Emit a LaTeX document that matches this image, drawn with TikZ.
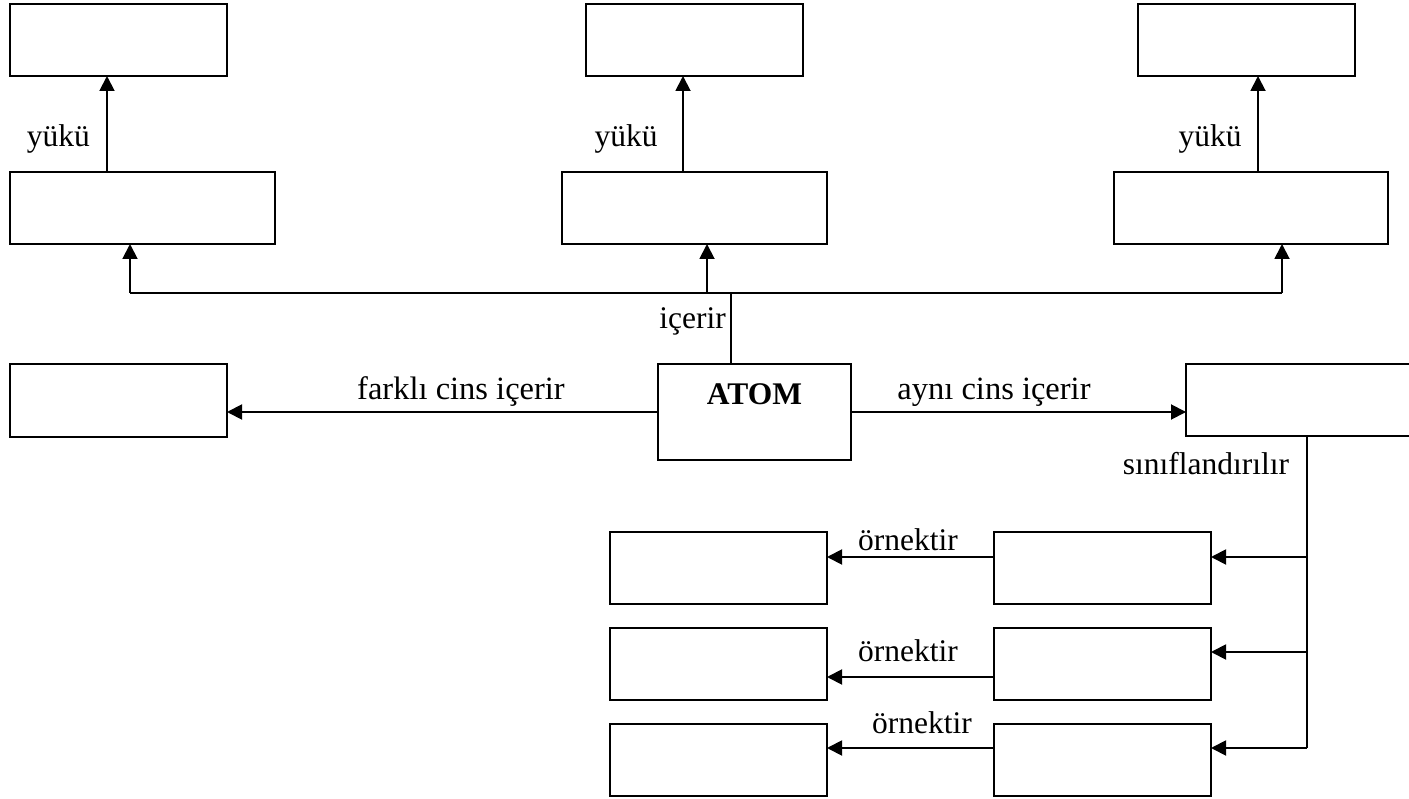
\documentclass[tikz,border=0pt]{standalone}
\usepackage{fontspec}
\setmainfont{Liberation Serif}
\usetikzlibrary{arrows.meta}
\begin{document}
\begin{tikzpicture}[x=1pt,y=-1pt,
  box/.style={draw, line width=1.9pt, minimum height=72pt, inner sep=0pt, outer sep=0pt},
  conn/.style={line width=1.9pt},
  arr/.style={conn, -{Triangle[length=15pt,width=15pt]}},
  lbl/.style={anchor=base, inner sep=0pt, font=\fontsize{31.5}{36}\selectfont}]
\clip (0,0) rectangle (1409,799);
\fill[white] (0,0) rectangle (1409,799);

% top row
\node[box, minimum width=217pt] (T1) at (118.5,40) {};
\node[box, minimum width=217pt] (T2) at (694.5,40) {};
\node[box, minimum width=217pt] (T3) at (1246.5,40) {};
% second row
\node[box, minimum width=265pt] (B1) at (142.5,208) {};
\node[box, minimum width=265pt] (B2) at (694.5,208) {};
\node[box, minimum width=274pt] (B3) at (1251,208) {};
% middle row
\node[box, minimum width=217pt, minimum height=73pt] (L) at (118.5,400.5) {};
\node[box, minimum width=193pt, minimum height=96pt, text height=21pt, text depth=35pt,
      font=\fontsize{31.5}{36}\selectfont\bfseries] (ATOM) at (754.5,412) {ATOM};
\node[box, minimum width=244pt] (R) at (1308,400) {};
% lower rows
\node[box, minimum width=217pt] (C1) at (1102.5,568) {};
\node[box, minimum width=217pt] (C2) at (1102.5,664) {};
\node[box, minimum width=217pt] (C3) at (1102.5,760) {};
\node[box, minimum width=217pt] (D1) at (718.5,568) {};
\node[box, minimum width=217pt] (D2) at (718.5,664) {};
\node[box, minimum width=217pt] (D3) at (718.5,760) {};

% guide coordinates
\coordinate (xa) at (107,0);
\coordinate (xb) at (683,0);
\coordinate (xc) at (1258,0);
\coordinate (p1) at (130,0);
\coordinate (p2) at (707,0);
\coordinate (p3) at (1282,0);
\coordinate (xm) at (731,0);
\coordinate (bus) at (0,293);
\coordinate (cx) at (1307,0);
\coordinate (ya) at (0,557);
\coordinate (yb) at (0,652);
\coordinate (yc) at (0,748);
\coordinate (yd) at (0,677);

% charge arrows
\draw[arr] (B1.north -| xa) -- (T1.south -| xa);
\draw[arr] (B2.north -| xb) -- (T2.south -| xb);
\draw[arr] (B3.north -| xc) -- (T3.south -| xc);

% contains bus
\draw[conn] (ATOM.north -| xm) -- (xm |- bus);
\draw[conn] (p1 |- bus) -- (p3 |- bus);
\draw[arr] (p1 |- bus) -- (B1.south -| p1);
\draw[arr] (p2 |- bus) -- (B2.south -| p2);
\draw[arr] (p3 |- bus) -- (B3.south -| p3);

% sideways arrows
\draw[arr] (ATOM.west) -- (ATOM.west -| L.east);
\draw[arr] (ATOM.east) -- (ATOM.east -| R.west);

% classification bus
\draw[conn] (R.south -| cx) -- (cx |- yc);
\draw[arr] (cx |- ya) -- (C1.east |- ya);
\draw[arr] (cx |- yb) -- (C2.east |- yb);
\draw[arr] (cx |- yc) -- (C3.east |- yc);

% example arrows
\draw[arr] (C1.west |- ya) -- (D1.east |- ya);
\draw[arr] (C2.west |- yd) -- (D2.east |- yd);
\draw[arr] (C3.west |- yc) -- (D3.east |- yc);

% labels
\node[lbl] (l1) at (58.5,147) {yükü};
\node[lbl] (l2) at (626,147) {yükü};
\node[lbl] (l3) at (1210,147) {yükü};
\node[lbl] (l4) at (692.5,329) {içerir};
\node[lbl, font=\fontsize{32.5}{36}\selectfont] (l5) at (461,400) {farklı cins içerir};
\node[lbl, font=\fontsize{32.5}{36}\selectfont] (l6) at (994,400) {aynı cins içerir};
\node[lbl] (l7) at (1206,475) {sınıflandırılır};
\node[lbl] (l8) at (908,550) {örnektir};
\node[lbl] (l9) at (908,661) {örnektir};
\node[lbl] (l10) at (922,733) {örnektir};
\end{tikzpicture}
\end{document}
